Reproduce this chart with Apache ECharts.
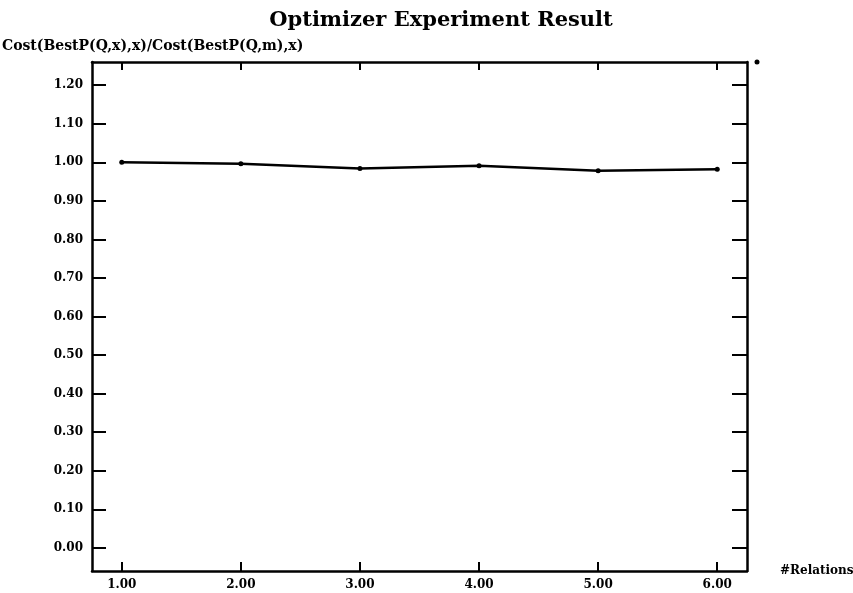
<!DOCTYPE html>
<html>
<head>
<meta charset="utf-8">
<script src="https://cdn.jsdelivr.net/npm/echarts@6/dist/echarts.min.js"></script>
<style>html,body{margin:0;padding:0;background:#fff}#c{width:853px;height:593px}</style>
</head>
<body>
<div id="c"></div>
<script>
const xValues = [1, 2, 3, 4, 5, 6];
const yValues = [1.000, 0.996, 0.984, 0.991, 0.978, 0.982];
const xTicks = [1, 2, 3, 4, 5, 6];
const yTicks = [0, 0.1, 0.2, 0.3, 0.4, 0.5, 0.6, 0.7, 0.8, 0.9, 1.0, 1.1, 1.2];
const titleText = 'Optimizer Experiment Result';
const yName = 'Cost(BestP(Q,x),x)/Cost(BestP(Q,m),x)';
const xName = '#Relations';

const FONT = 'DejaVu Serif';
const chart = echarts.init(document.getElementById('c'), null, {renderer: 'canvas'});
const axisLine = {show: true, onZero: false, lineStyle: {color: '#000', width: 2.5}};
chart.setOption({
  animation: false,
  backgroundColor: '#fff',
  title: [
    {text: titleText, left: 436, top: 5, textAlign: 'center',
     textStyle: {fontFamily: FONT, fontWeight: 'bold', fontSize: 21, color: '#000'}},
    {text: yName, left: -3, top: 34,
     textStyle: {fontFamily: FONT, fontWeight: 'bold', fontSize: 14, color: '#000'}}
  ],
  grid: {left: 92, right: 106, top: 62, bottom: 22, containLabel: false, outerBoundsMode: 'none'},
  xAxis: [
    {type: 'value', min: 0.75, max: 6.25, position: 'bottom',
     name: xName, nameLocation: 'end', nameGap: 33,
     nameTextStyle: {fontFamily: FONT, fontWeight: 'bold', fontSize: 12, color: '#000', verticalAlign: 'middle', padding: [4,0,0,0]},
     axisLine: axisLine,
     axisTick: {show: true, inside: true, length: 9, customValues: xTicks, lineStyle: {color: '#000', width: 2}},
     axisLabel: {show: true, customValues: xTicks, margin: 8, formatter: v => v.toFixed(2),
       fontFamily: FONT, fontWeight: 'bold', fontSize: 12, color: '#000'},
     splitLine: {show: false}},
    {type: 'value', min: 0.75, max: 6.25, position: 'top',
     axisLine: axisLine,
     axisTick: {show: true, inside: true, length: 8, customValues: xTicks, lineStyle: {color: '#000', width: 2}},
     axisLabel: {show: false}, splitLine: {show: false}}
  ],
  yAxis: [
    {type: 'value', min: -0.06, max: 1.26, position: 'left',
     axisLine: axisLine,
     axisTick: {show: true, inside: true, length: 14, customValues: yTicks, lineStyle: {color: '#000', width: 2}},
     axisLabel: {show: true, customValues: yTicks, margin: 9, formatter: v => v.toFixed(2),
       fontFamily: FONT, fontWeight: 'bold', fontSize: 12, color: '#000'},
     splitLine: {show: false}},
    {type: 'value', min: -0.06, max: 1.26, position: 'right',
     axisLine: axisLine,
     axisTick: {show: true, inside: true, length: 15, customValues: yTicks, lineStyle: {color: '#000', width: 2}},
     axisLabel: {show: false}, splitLine: {show: false}}
  ],
  series: [{
    type: 'line',
    xAxisIndex: 0, yAxisIndex: 0,
    data: xValues.map((x, i) => [x, yValues[i]]),
    symbol: 'circle', symbolSize: 5,
    itemStyle: {color: '#000'},
    lineStyle: {color: '#000', width: 2.5},
    silent: true
  }],
  graphic: [
    {type: 'circle', shape: {cx: 757, cy: 62, r: 2.5}, style: {fill: '#000'}}
  ]
});
</script>
</body>
</html>
